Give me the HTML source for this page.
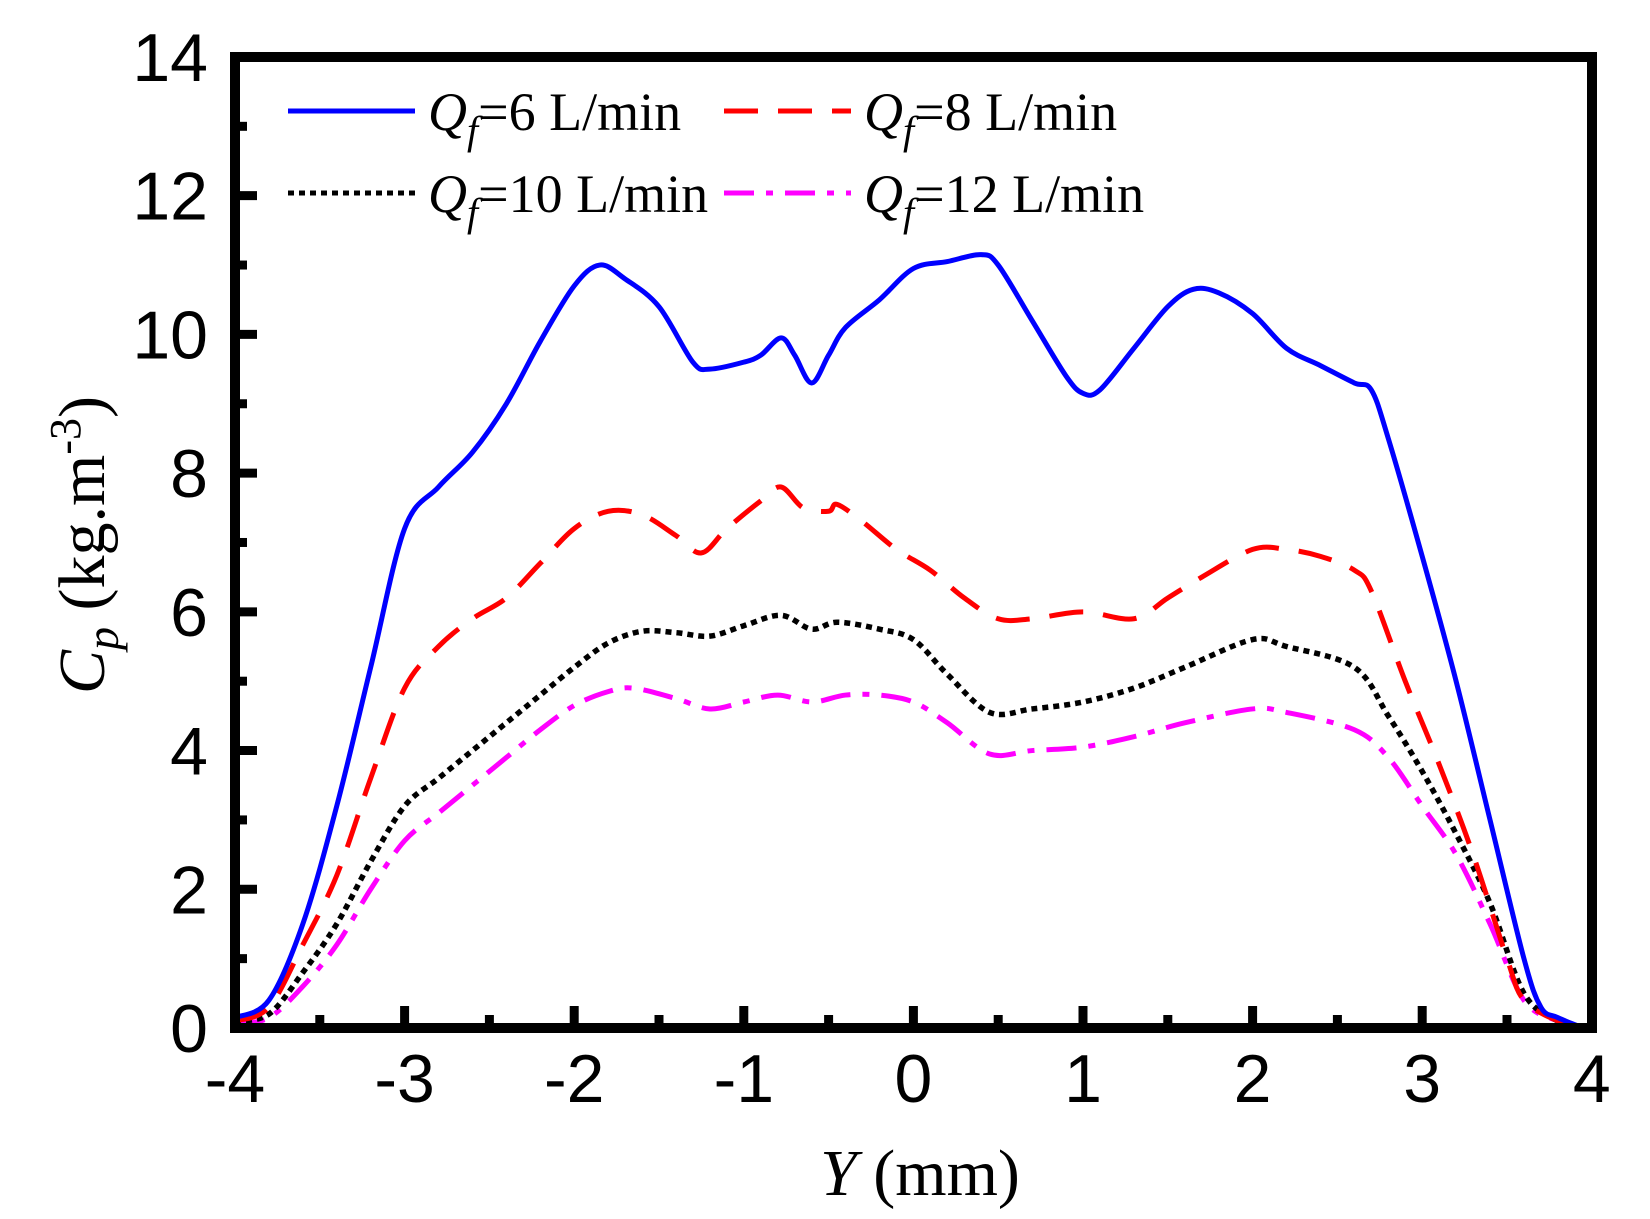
<!DOCTYPE html>
<html><head><meta charset="utf-8"><style>
body{margin:0;background:#fff}
svg text{font-family:"Liberation Sans",Arial,sans-serif}
.serif{font-family:"Liberation Serif","Times New Roman",serif}
</style></head><body>
<svg id="chart" width="1650" height="1214" viewBox="0 0 1650 1214" xmlns="http://www.w3.org/2000/svg">
<g id="ticks"></g>
<g id="series"></g>
<rect x="235" y="57" width="1357" height="971" fill="none" stroke="#000" stroke-width="10"/>
<g id="labels"></g>
<text class="serif" x="920" y="1195" font-size="66" text-anchor="middle"><tspan font-style="italic">Y</tspan> (mm)</text>
<text class="serif" transform="translate(104,545) rotate(-90)" font-size="66" text-anchor="middle"><tspan font-style="italic">C</tspan><tspan font-style="italic" font-size="46" dy="14">p</tspan><tspan dy="-14"> (kg.m</tspan><tspan font-size="44" dy="-24">-3</tspan><tspan dy="24">)</tspan></text>
<g id="legend"></g>
</svg>
<script>
const xTicks=[-4,-3,-2,-1,0,1,2,3,4];
const yTicks=[0,2,4,6,8,10,12,14];
const names=["Qf=6 L/min","Qf=8 L/min","Qf=10 L/min","Qf=12 L/min"];
const flows=["6","8","10","12"];
const s6x=[-4,-3.8,-3.6,-3.4,-3.2,-3.0,-2.8,-2.6,-2.4,-2.2,-2.0,-1.85,-1.7,-1.5,-1.3,-1.2,-1.0,-0.9,-0.78,-0.7,-0.6,-0.5,-0.4,-0.2,0,0.2,0.4,0.5,0.7,0.9,1.0,1.1,1.3,1.5,1.65,1.8,2.0,2.2,2.4,2.6,2.7,2.8,3.0,3.2,3.4,3.6,3.7,3.8,3.95];
const s6y=[0.15,0.4,1.5,3.2,5.2,7.2,7.8,8.3,9.0,9.9,10.7,11.0,10.8,10.4,9.6,9.5,9.6,9.7,9.95,9.7,9.3,9.7,10.1,10.5,10.95,11.05,11.15,11.0,10.2,9.4,9.15,9.2,9.8,10.4,10.65,10.6,10.3,9.8,9.55,9.3,9.2,8.5,6.8,5.0,3.0,1.0,0.3,0.15,0];
const s8x=[-4,-3.8,-3.6,-3.4,-3.2,-3.0,-2.8,-2.6,-2.4,-2.2,-2.0,-1.8,-1.6,-1.4,-1.25,-1.1,-0.9,-0.78,-0.65,-0.5,-0.45,-0.3,-0.1,0.1,0.3,0.5,0.7,1.0,1.3,1.5,1.7,2.0,2.2,2.4,2.6,2.7,2.9,3.1,3.3,3.5,3.6,3.8,3.95];
const s8y=[0.1,0.3,1.2,2.2,3.6,4.9,5.5,5.9,6.2,6.7,7.2,7.45,7.4,7.1,6.85,7.2,7.6,7.8,7.5,7.45,7.55,7.3,6.9,6.6,6.2,5.9,5.9,6.0,5.9,6.2,6.5,6.9,6.9,6.8,6.6,6.3,5.0,3.8,2.5,1.0,0.4,0.1,0];
const s10x=[-4,-3.8,-3.6,-3.4,-3.2,-3.0,-2.8,-2.6,-2.4,-2.2,-2.0,-1.8,-1.6,-1.4,-1.2,-1.0,-0.78,-0.6,-0.45,-0.2,0,0.2,0.45,0.7,1.0,1.3,1.6,2.0,2.2,2.6,2.8,3.0,3.2,3.4,3.6,3.8,3.95];
const s10y=[0.1,0.2,0.8,1.5,2.4,3.2,3.6,4.0,4.4,4.8,5.2,5.55,5.72,5.7,5.65,5.8,5.95,5.75,5.85,5.75,5.6,5.1,4.55,4.6,4.7,4.9,5.2,5.6,5.5,5.2,4.5,3.7,2.8,1.8,0.5,0.1,0];
const s12x=[-4,-3.8,-3.6,-3.4,-3.2,-3.0,-2.8,-2.6,-2.4,-2.2,-2.0,-1.8,-1.65,-1.4,-1.2,-1.0,-0.8,-0.6,-0.4,-0.2,0,0.2,0.45,0.7,1.0,1.3,1.6,2.0,2.2,2.6,2.8,3.0,3.2,3.4,3.6,3.8,3.95];
const s12y=[0.05,0.15,0.6,1.2,2.0,2.7,3.1,3.5,3.9,4.3,4.65,4.85,4.9,4.75,4.6,4.7,4.8,4.7,4.8,4.8,4.7,4.4,3.95,4.0,4.05,4.2,4.4,4.6,4.55,4.3,3.9,3.2,2.5,1.5,0.4,0.1,0];

const X=v=>235+(v+4)*169.6;
const Y=v=>1028-v*69.36;
const NS="http://www.w3.org/2000/svg";
function mk(tag,attrs,parent){const e=document.createElementNS(NS,tag);for(const k in attrs)e.setAttribute(k,attrs[k]);parent.appendChild(e);return e;}
const tk=document.getElementById('ticks'),lb=document.getElementById('labels'),sg=document.getElementById('series'),lg=document.getElementById('legend');
xTicks.forEach((t,i)=>{
  let l=mk('line',{x1:X(t),x2:X(t),y1:1028,y2:1006,stroke:'#000','stroke-width':9},tk);
  
  
  if(i<xTicks.length-1){let m=mk('line',{x1:X(t+0.5),x2:X(t+0.5),y1:1028,y2:1015,stroke:'#000','stroke-width':9},tk);
  
  }
  let tx=mk('text',{x:X(t),y:1102,'font-size':68,'text-anchor':'middle'},lb);tx.textContent=t;
  
  
});
yTicks.forEach((t,i)=>{
  let l=mk('line',{x1:235,x2:257,y1:Y(t),y2:Y(t),stroke:'#000','stroke-width':9},tk);
  
  
  if(i<yTicks.length-1){let m=mk('line',{x1:235,x2:247,y1:Y(t+1),y2:Y(t+1),stroke:'#000','stroke-width':9},tk);
  
  }
  let tx=mk('text',{x:208,y:Y(t)+24,'font-size':68,'text-anchor':'end'},lb);tx.textContent=t;
  
  
});
function pathD(xs,ys){const p=xs.map((x,i)=>[X(x),Y(ys[i])]);let d='M'+p[0][0]+','+p[0][1];
  for(let i=0;i<p.length-1;i++){const p0=p[i-1]||p[i],p1=p[i],p2=p[i+1],p3=p[i+2]||p2;
    d+=` C${p1[0]+(p2[0]-p0[0])/6},${p1[1]+(p2[1]-p0[1])/6} ${p2[0]-(p3[0]-p1[0])/6},${p2[1]-(p3[1]-p1[1])/6} ${p2[0]},${p2[1]}`;}
  return d;}
const styles=[{c:'#0000ff',d:''},{c:'#ff0000',d:'34,20'},{c:'#000000',d:'6,5'},{c:'#ff00ff',d:'30,12,7,12'}];
const seriesX=[s6x,s8x,s10x,s12x],seriesY=[s6y,s8y,s10y,s12y];
const snames=['series-6-lpm','series-8-lpm','series-10-lpm','series-12-lpm'];
[3,2,1,0].forEach(i=>{
  let p=mk('path',{d:pathD(seriesX[i],seriesY[i]),fill:'none',stroke:styles[i].c,'stroke-width':i==2?5.5:5,'stroke-dasharray':styles[i].d},sg);
  
  
});
const lpos=[[288,111],[724,111],[288,193],[724,193]];
names.forEach((n,i)=>{
  const [x,y]=lpos[i];
  let g=mk('g',{},lg);
  
  
  mk('line',{x1:x,x2:x+127,y1:y,y2:y,stroke:styles[i].c,'stroke-width':5,'stroke-dasharray':styles[i].d},g);
  let t=mk('text',{x:x+140,y:y+19,'font-size':54,class:'serif'},g);
  t.innerHTML='<tspan font-style="italic">Q</tspan><tspan font-style="italic" font-size="40" dy="14">f</tspan><tspan dy="-14">='+flows[i]+' L/min</tspan>';
});
</script>
</body></html>
